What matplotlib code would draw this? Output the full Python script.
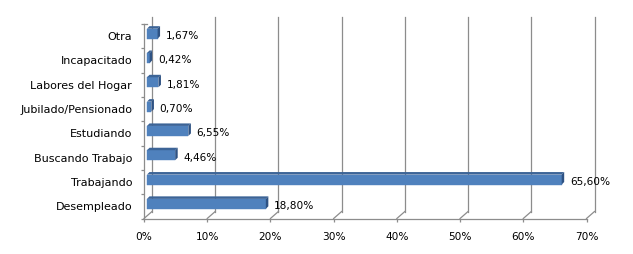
import matplotlib
matplotlib.use('Agg')
import matplotlib.pyplot as plt
from matplotlib.patches import Polygon
import matplotlib.transforms as mtrans

categories = ['Desempleado', 'Trabajando', 'Buscando Trabajo', 'Estudiando',
              'Jubilado/Pensionado', 'Labores del Hogar', 'Incapacitado', 'Otra']
values = [18.80, 65.60, 4.46, 6.55, 0.70, 1.81, 0.42, 1.67]
value_labels = ['18,80%', '65,60%', '4,46%', '6,55%', '0,70%', '1,81%', '0,42%', '1,67%']
xticks = [0, 10, 20, 30, 40, 50, 60, 70]
xtick_labels = ['0%', '10%', '20%', '30%', '40%', '50%', '60%', '70%']

plt.rcParams['font.family'] = ['DejaVu Sans']
W, H = 633, 254
DPI = 100
fig = plt.figure(figsize=(W / DPI, H / DPI), dpi=DPI)
x0, x1 = 144, 586.5
y_top, y_bot = 24, 218.5
ax = fig.add_axes([x0 / W, 1 - y_bot / H, (x1 - x0) / W, (y_bot - y_top) / H])
xmin, xmax = 0, 70
ymin, ymax = -0.5, len(categories) - 0.5
ax.set_xlim(xmin, xmax)
ax.set_ylim(ymin, ymax)
for s in ax.spines.values():
    s.set_visible(False)

gcol = '#8C8C8C'
pxx = (x1 - x0) / (xmax - xmin)
pxy = (y_bot - y_top) / (ymax - ymin)

def off(dx, dy):
    return ax.transData + mtrans.ScaledTranslation(dx / DPI, dy / DPI, fig.dpi_scale_trans)

back = off(8, 7)
# back wall gridlines
for t in xticks:
    ax.plot([t, t], [ymin, ymax], color=gcol, lw=0.9, transform=back, clip_on=False, zorder=1)
    # floor connectors
    ax.plot([t, t + 8 / pxx], [ymin, ymin + 7 / pxy], color=gcol, lw=0.9, clip_on=False, zorder=1)
# top-left connector
ax.plot([0, 3 / pxx], [ymax, ymax], color=gcol, lw=0.9, clip_on=False, zorder=1)
# front frame
ax.plot([0, 0], [ymin, ymax], color=gcol, lw=0.9, clip_on=False, zorder=2)
ax.plot([xmin, xmax], [ymin, ymin], color=gcol, lw=0.9, clip_on=False, zorder=2)

# bars
face = off(3, 2.5)
h = 0.41
ddx = 2.5 / pxx
ddy = 2.5 / pxy
ys = list(range(len(categories)))
bars = ax.barh(ys, values, height=h, color='#4F81BD', edgecolor='#4F81BD', lw=0.3, zorder=3)
for p in bars:
    p.set_transform(face)
    p.set_clip_on(False)
for i, v in zip(ys, values):
    topf = Polygon([(0, i + h / 2), (v, i + h / 2), (v + ddx, i + h / 2 + ddy), (ddx, i + h / 2 + ddy)],
                   closed=True, facecolor='#3C6497', edgecolor='none', transform=face, clip_on=False, zorder=3)
    cap = Polygon([(v, i - h / 2), (v, i + h / 2), (v + ddx, i + h / 2 + ddy), (v + ddx, i - h / 2 + ddy)],
                  closed=True, facecolor='#2E5283', edgecolor='none', transform=face, clip_on=False, zorder=3)
    ax.add_patch(topf)
    ax.add_patch(cap)

for i, v, lab in zip(ys, values, value_labels):
    ax.annotate(lab, (v, i), xytext=(8.0, 0), textcoords='offset points',
                ha='left', va='center', fontsize=7.6, color='black', zorder=4)

ax.set_yticks(ys, categories)
ax.set_yticks([k - 0.5 for k in range(len(categories) + 1)], minor=True)
ax.tick_params(axis='y', which='major', length=0, pad=8.5, labelsize=8, labelcolor='black')
ax.tick_params(axis='y', which='minor', length=2.5, color=gcol, width=0.9, direction='out')
ax.set_xticks(xticks, xtick_labels)
ax.tick_params(axis='x', which='major', length=2.5, color=gcol, width=0.9, pad=7.0,
               labelsize=7.6, labelcolor='black')

fig.savefig('out.png', dpi=DPI, facecolor='white')
